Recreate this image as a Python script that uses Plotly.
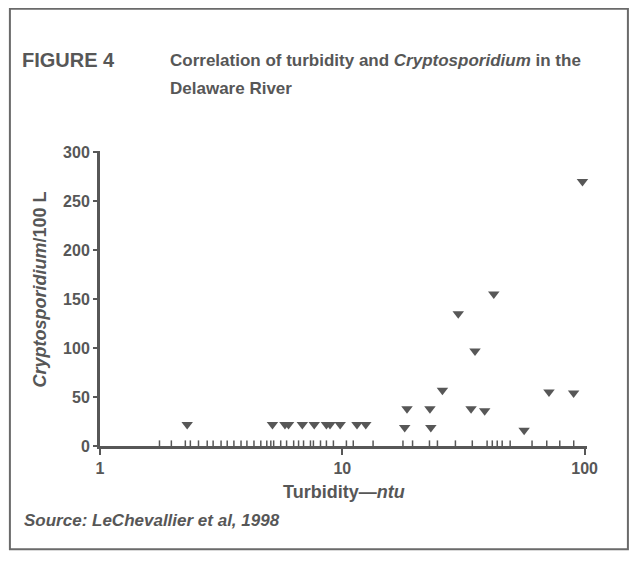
import plotly.graph_objects as go

# sampled events with oocysts detected
turbidity = [2.29, 5.15, 5.8, 6.0, 6.84, 7.66, 8.6, 8.9, 9.8, 11.5, 12.5,
             18.1, 23.2, 18.5, 23.0, 25.9, 30.1, 35.3, 34.0, 38.7, 42.2,
             56.3, 71.3, 90.1, 98.0]
oocysts = [22, 22, 22, 22, 22, 22, 22, 22, 22, 22, 22,
           19, 19, 38, 38, 57, 135, 97, 38, 36, 155,
           16, 55, 54, 270]

# sampled events with none detected (drawn as ticks on the axis)
turbidity_zero = [1.76, 1.97, 2.25, 2.36, 2.55, 2.77, 2.93, 3.16, 3.35, 3.57,
                  3.82, 4.04, 4.32, 4.61, 4.88, 5.07, 5.21, 5.57, 5.89, 6.30,
                  6.60, 6.92, 7.39, 7.60, 8.13, 8.60, 9.19, 10.4, 11.1, 13.4,
                  17.8, 19.5, 22.9, 24.7, 29.3, 34.4, 39.6, 41.6, 43.6, 45.7,
                  49.3, 60.7, 69.8, 79.0, 90.2]
oocysts_zero = [0] * len(turbidity_zero)

y_ticks = [0, 50, 100, 150, 200, 250, 300]
x_ticks = [1, 10, 100]

GREY = "#575757"
SANS = "Liberation Sans, Arial, sans-serif"

fig = go.Figure()
fig.add_trace(go.Scatter(
    x=turbidity_zero, y=oocysts_zero, mode="markers",
    marker=dict(symbol="line-ns", size=8, line=dict(color=GREY, width=1.5)),
    cliponaxis=True, hoverinfo="skip"))
fig.add_trace(go.Scatter(
    x=turbidity, y=oocysts, mode="markers",
    marker=dict(symbol="triangle-down", size=10, color=GREY),
    cliponaxis=False))

fig.update_xaxes(type="log", range=[0, 2.01], tickvals=x_ticks,
                 ticktext=["<b>%d</b>" % v for v in x_ticks],
                 showgrid=False, zeroline=False, showline=True,
                 linecolor=GREY, linewidth=3, ticks="outside", ticklen=6,
                 tickwidth=2, tickcolor=GREY,
                 tickfont=dict(family=SANS, size=16, color=GREY))
fig.update_yaxes(range=[0, 301], tickvals=y_ticks,
                 ticktext=["<b>%d</b>" % v for v in y_ticks],
                 showgrid=False, zeroline=False, showline=True,
                 linecolor=GREY, linewidth=3, ticks="outside", ticklen=4,
                 tickwidth=2, tickcolor=GREY,
                 tickfont=dict(family=SANS, size=16, color=GREY))

# outer frame
fig.add_shape(type="rect", xref="paper", yref="paper",
              x0=-0.185, x1=1.084, y0=-0.350, y1=1.482,
              line=dict(color="#6a6a6a", width=2))

ann = dict(xref="paper", yref="paper", showarrow=False)
fig.add_annotation(x=-0.164, y=1.307, xanchor="left", yanchor="middle",
                   text="<b>FIGURE 4</b>",
                   font=dict(family=SANS, size=20, color=GREY), **ann)
fig.add_annotation(x=0.1396, y=1.307, xanchor="left", yanchor="middle",
                   text="<b>Correlation of turbidity and <i>Cryptosporidium</i> in the</b>",
                   font=dict(family=SANS, size=17, color=GREY), **ann)
fig.add_annotation(x=0.1396, y=1.212, xanchor="left", yanchor="middle",
                   text="<b>Delaware River</b>",
                   font=dict(family=SANS, size=17, color=GREY), **ann)
fig.add_annotation(x=0.5, y=-0.157, xanchor="center", yanchor="middle",
                   text="<b>Turbidity—<i>ntu</i></b>",
                   font=dict(family=SANS, size=18, color=GREY), **ann)
fig.add_annotation(x=-0.160, y=-0.252, xanchor="left", yanchor="middle",
                   text="<b><i>Source: LeChevallier et al, 1998</i></b>",
                   font=dict(family=SANS, size=17, color=GREY), **ann)
fig.add_annotation(x=-0.123, y=0.531, xanchor="center", yanchor="middle",
                   textangle=-90,
                   text="<b><i>Cryptosporidium</i>/100 L</b>",
                   font=dict(family=SANS, size=18, color=GREY), **ann)

fig.update_layout(width=622, height=545, showlegend=False,
                  margin=dict(l=92, r=43, t=143, b=107),
                  paper_bgcolor="white", plot_bgcolor="white")

fig.write_html("out.html")
